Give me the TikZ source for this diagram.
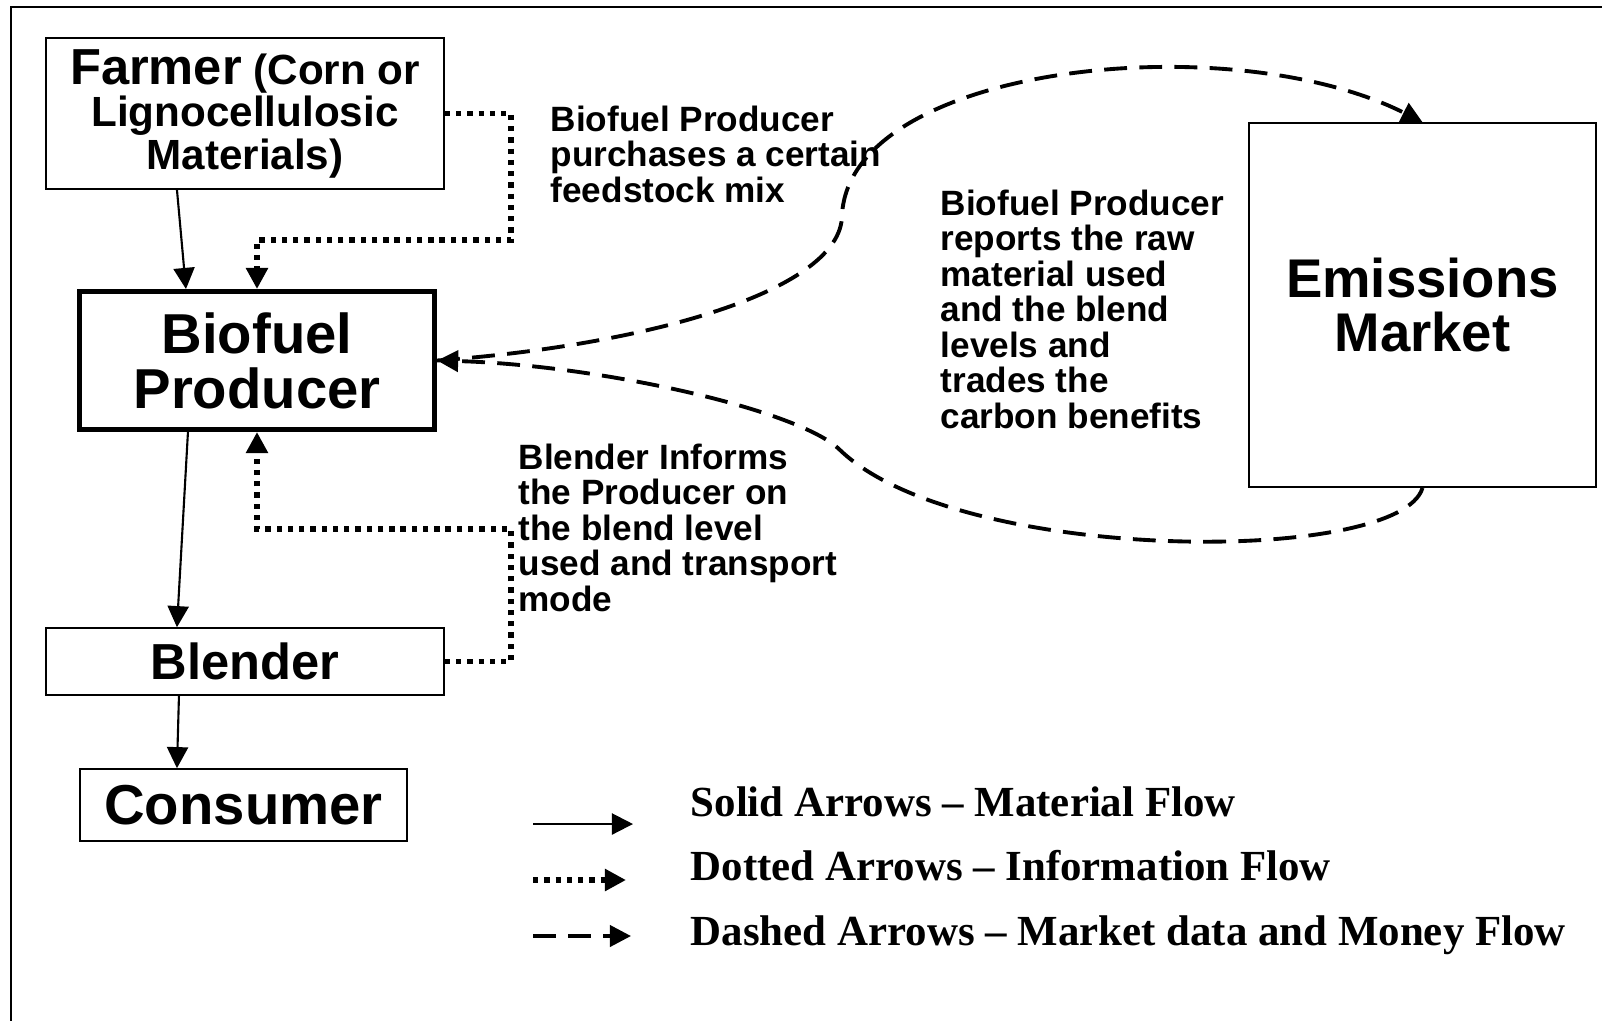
\documentclass[tikz,border=0pt]{standalone}
\usepackage{fontspec}
\setmainfont{Liberation Sans}
\newfontfamily\legendfont{Liberation Serif}
\usetikzlibrary{arrows.meta,positioning}

\begin{document}
\begin{tikzpicture}[
      x=0.01cm, y=-0.01cm,
      box/.style={draw, line width=0.45pt, align=center, inner sep=0pt},
      note/.style={anchor=north west, align=left, inner sep=0pt,
                   font=\bfseries\fontsize{10}{10.1}\selectfont},
      legend/.style={anchor=base west, inner sep=0pt,
                     font=\legendfont\bfseries\fontsize{12.2}{14}\selectfont},
      tip/.style={-{Triangle[length=6pt,width=6pt]}},
      material/.style={tip, line width=0.6pt},
      info/.style={tip, line width=1.6pt, dash pattern=on 1.5pt off 1.7pt},
      money/.style={tip, line width=1.1pt, dash pattern=on 6.5pt off 3.5pt},
    ]
      \useasboundingbox (0,0) rectangle (1602,1020);
      \draw[line width=0.5pt] (11,7) rectangle (1615,1035);

      \node[box, minimum width=3.98cm, minimum height=1.51cm,
            font=\bfseries\fontsize{12}{12.1}\selectfont] (farmer) at (245,113.5)
        {{\fontsize{14.4}{12.1}\selectfont Farmer} (Corn or\\Lignocellulosic\\Materials)};
      \node[box, line width=1.4pt, minimum width=3.55cm, minimum height=1.38cm,
            font=\bfseries\fontsize{16}{15.6}\selectfont] (producer) at (257,360.5)
        {Biofuel\\Producer};
      \node[box, minimum width=3.98cm, minimum height=0.67cm,
            font=\bfseries\fontsize{14.4}{15}\selectfont] (blender) at (245,661.5) {Blender};
      \node[box, minimum width=3.27cm, minimum height=0.72cm,
            font=\bfseries\fontsize{16}{16}\selectfont] (consumer) at (243.5,805) {Consumer};
      \node[box, minimum width=3.47cm, minimum height=3.64cm,
            font=\bfseries\fontsize{15.5}{15.6}\selectfont] (emissions) at (1422.5,305)
        {Emissions\\Market};

      % material flow
      \draw[material] ([xshift=-0.68cm]farmer.south) -- ([xshift=-0.71cm]producer.north);
      \draw[material] ([xshift=-0.69cm]producer.south) -- ([xshift=-0.68cm]blender.north);
      \draw[material] ([xshift=-0.66cm]blender.south) -- ([xshift=-0.665cm]consumer.north);

      % information flow
      \draw[info] (farmer.east) -| (511,240) -| (producer.north);
      \draw[info] (blender.east) -| (511,529) -| (producer.south);

      % market data and money
      \draw[money] (producer.east) .. controls (650,345) and (842,290) .. (842,215)
        .. controls (850,65) and (1230,25) .. (emissions.north);
      \draw[money] (emissions.south) .. controls (1400,565) and (960,565) .. (840,450)
        .. controls (800,410) and (600,365) .. (producer.east);

      \node[note] (buynote) at (550,105)
        {Biofuel Producer\\purchases a certain\\feedstock mix};
      \node[note] (reportnote) at (940,189)
        {Biofuel Producer\\reports the raw\\material used\\and the blend\\levels and\\trades the\\carbon benefits};
      \node[note] (blendnote) at (518,443)
        {Blender Informs\\the Producer on\\the blend level\\used and transport\\mode};

      % legend
      \coordinate (solidA) at (533,824);
      \coordinate (solidB) at (633,824);
      \coordinate (dotA) at (533,880);
      \coordinate (dotB) at (626,880);
      \coordinate (dashA) at (533,936);
      \coordinate (dashB) at (631,936);
      \draw[material] (solidA) -- (solidB);
      \draw[info] (dotA) -- (dotB);
      \draw[money] (dashA) -- (dashB);
      \node[legend] (solidtext) at (690,816) {Solid Arrows – Material Flow};
      \node[legend] (dottext) at (690,880) {Dotted Arrows – Information Flow};
      \node[legend] (dashtext) at (690,945) {Dashed Arrows – Market data and Money Flow};
    \end{tikzpicture}
\end{document}
